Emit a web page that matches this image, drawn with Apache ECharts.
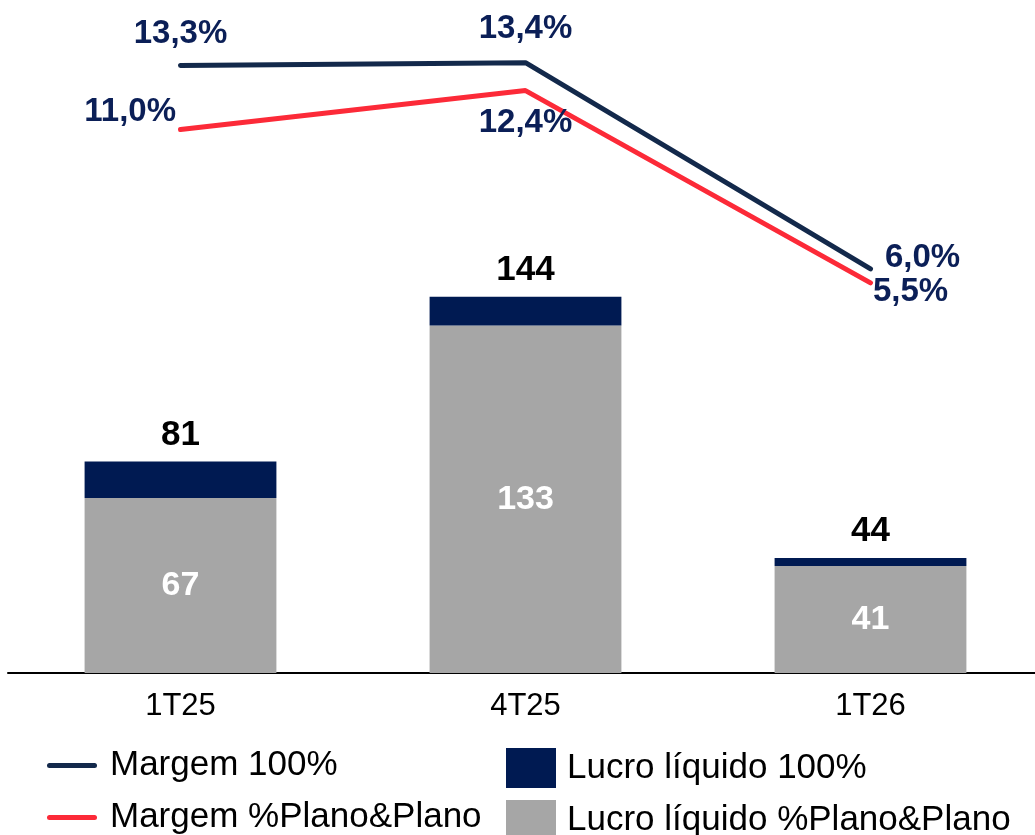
<!DOCTYPE html>
<html>
<head>
<meta charset="utf-8">
<script src="https://cdn.jsdelivr.net/npm/echarts@6/dist/echarts.min.js"></script>
<style>
  html, body { margin: 0; padding: 0; background: #fff; }
  #chart { width: 1035px; height: 835px; }
</style>
</head>
<body>
<div id="chart"></div>
<script>
const categories = ['1T25', '4T25', '1T26'];
const lucroTotal = [81, 144, 44];          // Lucro líquido 100%
const lucroPlano = [67, 133, 41];          // Lucro líquido %Plano&Plano
const margem100 = [13.3, 13.4, 6.0];
const margemPlano = [11.0, 12.4, 5.5];

const lucroTopo = lucroTotal.map((v, i) => v - lucroPlano[i]);

const FONT = 'Liberation Sans';
const NAVY_TXT = '#0b1f57';
const fmtPct = v => v.toFixed(1).replace('.', ',') + '%';
const LINE_ICON = 'path://M2.5,0 H47.5 A2.5,2.5 0 0 1 47.5,5 H2.5 A2.5,2.5 0 0 1 2.5,0 Z';

const chart = echarts.init(document.getElementById('chart'));

// posições dos rótulos das linhas, ponto a ponto
const lblM100 = [
  { position: 'top', distance: 15 },
  { position: 'top', distance: 17 },
  { position: 'right', distance: 14, offset: [0, -11] }
];
const lblPlano = [
  { position: 'left', distance: 4, offset: [0, -18] },
  { position: 'bottom', distance: 15 },
  { position: 'right', distance: 2, offset: [0, 9] }
];

// uma legenda por item, em duas colunas
function legendItem(name, left, top, icon, pad) {
  return {
    left: left,
    top: top,
    itemWidth: 50,
    itemHeight: 40,
    icon: icon,
    textStyle: { fontSize: 35, color: '#000', fontFamily: FONT, padding: [0, 0, 0, pad] },
    data: [name]
  };
}

const option = {
  animation: false,
  textStyle: { fontFamily: FONT },
  grid: { left: 8, width: 1035, top: 46, bottom: 162, outerBoundsMode: 'none', containLabel: false },
  legend: [
    legendItem('Margem 100%', 42, 743, LINE_ICON, 8),
    legendItem('Margem %Plano&Plano', 42, 795, LINE_ICON, 8),
    legendItem('Lucro líquido 100%', 501, 743, 'rect', 6),
    legendItem('Lucro líquido %Plano&Plano', 501, 795, 'rect', 6)
  ],
  xAxis: {
    type: 'category',
    data: categories,
    axisLine: { lineStyle: { color: '#000', width: 2 } },
    axisTick: { show: false },
    axisLabel: { fontSize: 31, color: '#000', margin: 18, fontFamily: FONT }
  },
  yAxis: [
    { type: 'value', min: 0, max: 240, show: false, splitLine: { show: false } },
    { type: 'value', min: -8.5, max: 14, show: false, splitLine: { show: false } }
  ],
  series: [
    {
      name: 'Lucro líquido %Plano&Plano',
      type: 'bar',
      stack: 'lucro',
      barWidth: '55.6%',
      itemStyle: { color: '#a6a6a6' },
      label: {
        show: true,
        position: 'inside',
        color: '#fff',
        fontSize: 34,
        fontWeight: 'bold',
        fontFamily: FONT
      },
      data: lucroPlano
    },
    {
      name: 'Lucro líquido 100%',
      type: 'bar',
      stack: 'lucro',
      itemStyle: { color: '#001a52' },
      label: {
        show: true,
        position: 'top',
        distance: 9,
        color: '#000',
        fontSize: 35,
        fontWeight: 'bold',
        fontFamily: FONT,
        formatter: p => lucroTotal[p.dataIndex]
      },
      data: lucroTopo
    },
    {
      name: 'Margem 100%',
      type: 'line',
      yAxisIndex: 1,
      symbol: 'circle',
      symbolSize: 1,
      lineStyle: { color: '#13294b', width: 5, cap: 'round' },
      itemStyle: { color: '#13294b' },
      label: {
        show: true,
        color: NAVY_TXT,
        fontSize: 33,
        fontWeight: 'bold',
        fontFamily: FONT,
        formatter: p => fmtPct(p.value)
      },
      data: margem100.map((v, i) => ({ value: v, label: lblM100[i] })),
      z: 5
    },
    {
      name: 'Margem %Plano&Plano',
      type: 'line',
      yAxisIndex: 1,
      symbol: 'circle',
      symbolSize: 1,
      lineStyle: { color: '#fc2a38', width: 5, cap: 'round' },
      itemStyle: { color: '#fc2a38' },
      label: {
        show: true,
        color: NAVY_TXT,
        fontSize: 33,
        fontWeight: 'bold',
        fontFamily: FONT,
        formatter: p => fmtPct(p.value)
      },
      data: margemPlano.map((v, i) => ({ value: v, label: lblPlano[i] })),
      z: 4
    }
  ]
};

chart.setOption(option);
</script>
</body>
</html>
